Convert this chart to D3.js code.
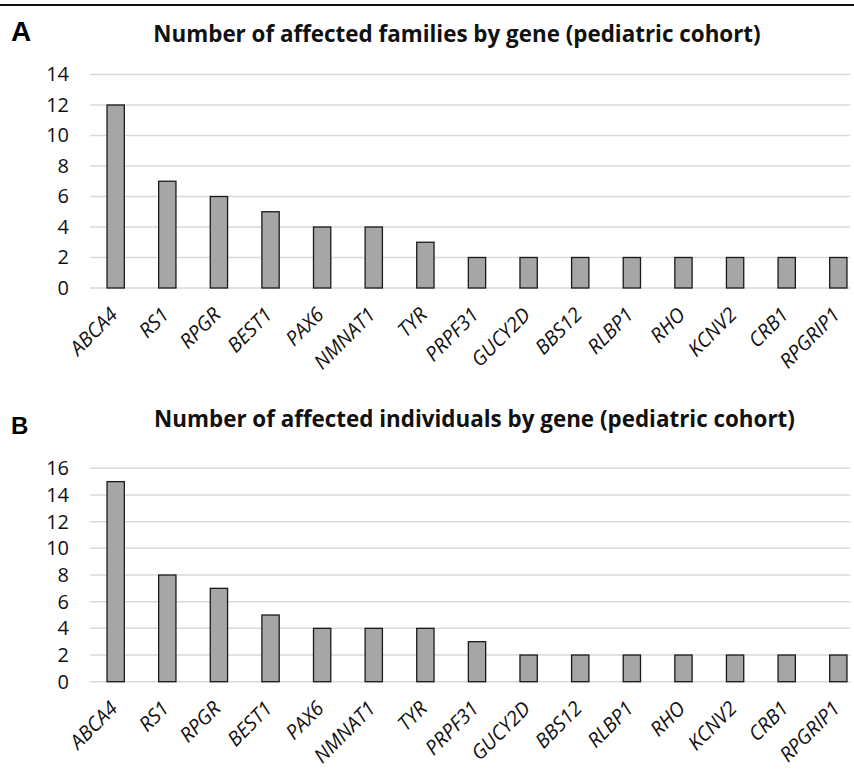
<!DOCTYPE html>
<html>
<head>
<meta charset="utf-8">
<script src="https://cdn.jsdelivr.net/npm/d3@7"></script>
<style>
  html, body { margin: 0; padding: 0; background: #fff; }
  svg { display: block; }
</style>
</head>
<body>
<svg id="chart" width="854" height="771"></svg>
<script>
// Genes, in the order shown on both panels
const genes = ["ABCA4", "RS1", "RPGR", "BEST1", "PAX6", "NMNAT1", "TYR", "PRPF31",
               "GUCY2D", "BBS12", "RLBP1", "RHO", "KCNV2", "CRB1", "RPGRIP1"];
// Panel A: affected families per gene
const families = [12, 7, 6, 5, 4, 4, 3, 2, 2, 2, 2, 2, 2, 2, 2];
// Panel B: affected individuals per gene
const individuals = [15, 8, 7, 5, 4, 4, 4, 3, 2, 2, 2, 2, 2, 2, 2];
// Y-axis ticks for each panel
const ticksA = [0, 2, 4, 6, 8, 10, 12, 14];
const ticksB = [0, 2, 4, 6, 8, 10, 12, 14, 16];

const svg = d3.select("#chart");
const W = 854;

// rule across the top of the figure
svg.append("line")
  .attr("x1", 0).attr("x2", W).attr("y1", 5).attr("y2", 5)
  .attr("stroke", "#111").attr("stroke-width", 2);

const x = d3.scaleBand().domain(genes).range([90, 864]).paddingInner(0.665).paddingOuter(0.33);

function panel(cfg) {
  const g = svg.append("g");
  const y = d3.scaleLinear().domain([0, cfg.max]).range([cfg.y0, cfg.yTop]);

  g.append("text")
    .attr("x", 11).attr("y", cfg.letterY)
    .attr("font-family", "Liberation Sans, Arial, sans-serif")
    .attr("font-weight", "bold").attr("font-size", cfg.letterSize)
    .text(cfg.letter);

  g.append("text")
    .attr("x", cfg.titleX).attr("y", cfg.titleY)
    .attr("text-anchor", "middle")
    .attr("font-family", "Open Sans, sans-serif")
    .attr("font-weight", "bold").attr("font-size", 22.4)
    .attr("fill", "#111")
    .text(cfg.title);

  // horizontal gridlines
  g.append("g").selectAll("line").data(cfg.ticks).join("line")
    .attr("x1", 90).attr("x2", 850)
    .attr("y1", d => y(d)).attr("y2", d => y(d))
    .attr("stroke", "#d9d9d9").attr("stroke-width", 1.5);

  // y-axis labels
  const yAxis = d3.axisLeft(y).tickValues(cfg.ticks).tickSize(0).tickPadding(0);
  const ya = g.append("g").attr("transform", "translate(69,0)").call(yAxis);
  ya.select(".domain").remove();
  ya.selectAll("text")
    .attr("font-family", "Open Sans, sans-serif").attr("font-size", 20)
    .attr("fill", "#111");

  // bars
  g.append("g").selectAll("rect").data(cfg.values).join("rect")
    .attr("x", (d, i) => x(genes[i]))
    .attr("width", x.bandwidth())
    .attr("y", d => y(d))
    .attr("height", d => y(0) - y(d))
    .attr("fill", "#a6a6a6")
    .attr("stroke", "#1a1a1a").attr("stroke-width", 1.3);

  // rotated gene labels
  const xAxis = d3.axisBottom(x).tickSize(0).tickPadding(0);
  const xa = g.append("g").attr("transform", `translate(0,${cfg.y0})`).call(xAxis);
  xa.select(".domain").remove();
  xa.selectAll("text")
    .attr("font-family", "Open Sans, sans-serif").attr("font-size", 20)
    .attr("font-style", "italic").attr("fill", "#111")
    .attr("text-anchor", "end")
    .attr("y", 0)
    .attr("dy", 0)
    .attr("transform", "translate(3,28) rotate(-45)");
}

panel({
  letter: "A", letterY: 41, letterSize: 28,
  title: "Number of affected families by gene (pediatric cohort)",
  titleX: 457, titleY: 42,
  values: families, ticks: ticksA, max: 14, y0: 288, yTop: 74.5
});

panel({
  letter: "B", letterY: 434, letterSize: 24,
  title: "Number of affected individuals by gene (pediatric cohort)",
  titleX: 474.5, titleY: 427,
  values: individuals, ticks: ticksB, max: 16, y0: 681.7, yTop: 468.3
});
</script>
</body>
</html>
